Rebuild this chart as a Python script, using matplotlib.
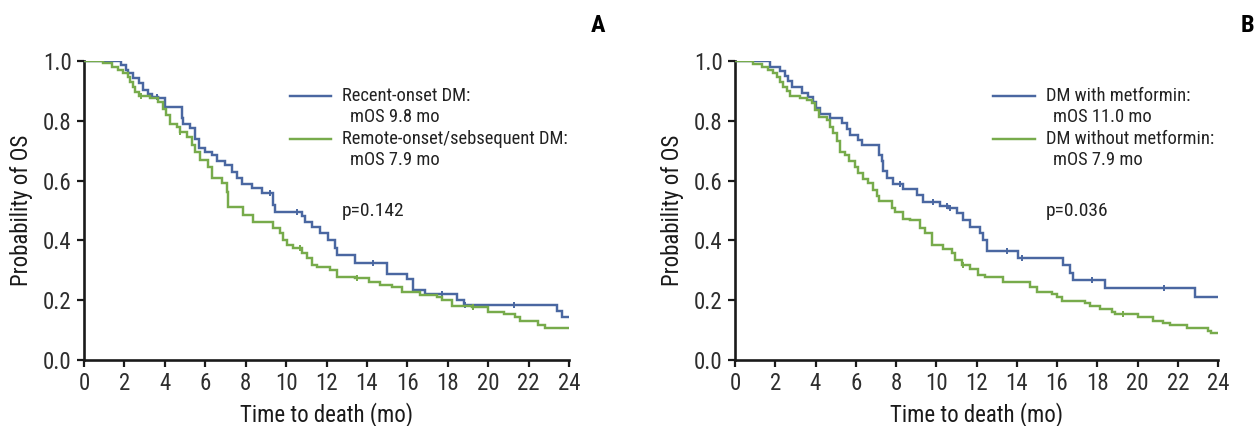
import numpy as np
import matplotlib
matplotlib.use("Agg")
import matplotlib.pyplot as plt
from matplotlib import font_manager

# narrow sans if one is installed, else the closest thing
names = {f.name for f in font_manager.fontManager.ttflist}
narrow = [n for n in ('Roboto Condensed', 'Liberation Sans Narrow', 'Open Sans Condensed',
                      'Noto Sans Condensed', 'Arial Narrow') if n in names]
plt.rcParams['font.family'] = narrow + ['Roboto', 'DejaVu Sans']
plt.rcParams['font.stretch'] = 'condensed'

BLUE = '#4a67a1'
GREEN = '#77ab4b'

# Panel A: recent-onset vs remote-onset DM (time in months, KM survival)
a_recent_t = [0, 1.81, 2.06, 2.19, 2.44, 2.74, 2.94, 3.18, 3.35, 3.68, 4.01, 4.83, 4.92,
              5.25, 5.5, 5.71, 5.99, 6.32, 6.57, 6.98, 7.31, 7.56, 7.81, 8.30, 8.80,
              9.37, 9.45, 10.78, 10.94, 11.27, 11.68, 12.09, 12.43, 12.51, 13.42, 15.0,
              15.97, 16.3, 16.88, 18.45, 18.78, 23.43, 23.65, 24]
a_recent_s = [1.0, 0.987, 0.97, 0.96, 0.944, 0.925, 0.903, 0.889, 0.88, 0.875, 0.845, 0.81,
              0.79, 0.775, 0.74, 0.708, 0.697, 0.686, 0.666, 0.652, 0.63, 0.608, 0.59, 0.574,
              0.557, 0.518, 0.496, 0.48, 0.463, 0.446, 0.424, 0.40, 0.373, 0.351, 0.323,
              0.287, 0.27, 0.234, 0.22, 0.20, 0.184, 0.164, 0.143, 0.143]
a_recent_cens = [3.6, 9.21, 10.56, 14.32, 17.74, 18.86, 21.3]

a_remote_t = [0, 0.96, 1.37, 1.7, 1.95, 2.19, 2.28, 2.41, 2.52, 2.74, 3.27, 3.68, 3.93, 4.06,
              4.26, 4.59, 4.75, 5.12, 5.33, 5.5, 5.74, 6.16, 6.32, 6.82, 7.06, 7.15, 7.89,
              8.38, 9.37, 9.7, 9.87, 10.03, 10.36, 10.78, 11.02, 11.27, 11.52, 12.18, 12.51,
              13.42, 14.08, 14.65, 15.23, 15.73, 16.63, 17.46, 17.71, 18.2, 19.19, 20.01,
              20.76, 21.34, 21.58, 22.49, 22.82, 24]
a_remote_s = [1.0, 0.992, 0.98, 0.97, 0.96, 0.948, 0.93, 0.914, 0.897, 0.884, 0.877, 0.863,
              0.84, 0.818, 0.79, 0.78, 0.764, 0.747, 0.72, 0.697, 0.669, 0.647, 0.608, 0.591,
              0.563, 0.513, 0.485, 0.463, 0.44, 0.424, 0.401, 0.385, 0.374, 0.357, 0.34,
              0.318, 0.31, 0.301, 0.279, 0.273, 0.262, 0.251, 0.245, 0.228, 0.217, 0.21,
              0.2, 0.182, 0.177, 0.162, 0.155, 0.143, 0.13, 0.117, 0.106, 0.106]
a_remote_cens = [2.8, 4.75, 10.7, 13.5, 19.27]

# Panel B: DM with vs without metformin
b_met_t = [0, 1.74, 2.24, 2.49, 2.65, 2.82, 3.31, 3.64, 3.89, 4.02, 4.22, 4.72, 5.3, 5.55,
           5.71, 6.13, 6.29, 7.17, 7.29, 7.37, 7.54, 7.87, 8.36, 9.03, 9.36, 10.19, 10.6,
           11.02, 11.35, 11.68, 12.18, 12.34, 12.51, 14.08, 16.31, 16.65, 16.81, 18.38,
           22.86, 24]
b_met_s = [1.0, 0.981, 0.966, 0.95, 0.933, 0.912, 0.892, 0.88, 0.864, 0.842, 0.822, 0.809,
           0.792, 0.773, 0.753, 0.737, 0.718, 0.687, 0.665, 0.631, 0.609, 0.59, 0.571, 0.552,
           0.529, 0.515, 0.51, 0.49, 0.468, 0.446, 0.424, 0.401, 0.366, 0.34, 0.318, 0.292,
           0.268, 0.242, 0.212, 0.212]
b_met_cens = [8.2, 9.82, 10.55, 10.68, 13.5, 14.24, 17.76, 21.33]

b_nomet_t = [0, 0.91, 1.32, 1.66, 1.9, 2.07, 2.24, 2.4, 2.6, 2.73, 3.23, 3.56, 3.81, 3.97,
             4.19, 4.56, 4.72, 4.89, 5.05, 5.22, 5.47, 5.68, 5.96, 6.13, 6.38, 6.63, 6.87,
             7.04, 7.17, 7.79, 7.95, 8.36, 8.69, 9.19, 9.44, 9.77, 10.35, 10.77, 10.93,
             11.26, 11.68, 12.09, 12.42, 13.33, 14.65, 14.99, 15.73, 15.98, 16.23, 17.39,
             17.64, 18.14, 18.71, 18.88, 20.04, 20.79, 21.28, 21.61, 22.44, 23.5, 23.67, 24]
b_nomet_s = [1.0, 0.99, 0.98, 0.97, 0.96, 0.945, 0.93, 0.914, 0.9, 0.884, 0.877, 0.869,
             0.858, 0.836, 0.813, 0.802, 0.78, 0.758, 0.732, 0.697, 0.686, 0.664, 0.644,
             0.625, 0.606, 0.592, 0.57, 0.548, 0.531, 0.51, 0.496, 0.472, 0.467, 0.44, 0.424,
             0.385, 0.371, 0.357, 0.334, 0.318, 0.305, 0.284, 0.279, 0.262, 0.245, 0.228,
             0.22, 0.21, 0.197, 0.19, 0.18, 0.171, 0.16, 0.154, 0.143, 0.131, 0.125, 0.117,
             0.108, 0.098, 0.089, 0.089]
b_nomet_cens = [11.35, 19.29]

x_ticks = list(range(0, 25, 2))
y_ticks = [0.0, 0.2, 0.4, 0.6, 0.8, 1.0]


def km_at(t, s, times):
    # survival value of the step curve at each censoring time
    idx = np.searchsorted(t, times, side='right') - 1
    return np.asarray(s)[idx]


def draw_curve(ax, t, s, cens, color):
    ax.step(t, s, where='post', color=color, lw=1.75, solid_joinstyle='miter', zorder=3)
    ax.plot(cens, km_at(t, s, cens), ls='none', marker='|', ms=5, mew=1.4, color=color, zorder=3)


def style_axes(ax):
    ax.set_xlim(0, 24)
    ax.set_ylim(0, 1.0)
    ax.set_xticks(x_ticks)
    ax.set_yticks(y_ticks)
    ax.set_yticklabels([f"{v:.1f}" for v in y_ticks])
    for side in ('top', 'right'):
        ax.spines[side].set_visible(False)
    for side in ('left', 'bottom'):
        ax.spines[side].set_linewidth(1.9)
        ax.spines[side].set_color('#1a1a1a')
    ax.tick_params(direction='out', length=5, width=1.6, labelsize=16.5, colors='#1a1a1a',
                   labelcolor='#2e2e2e', pad=4)
    ax.set_xlabel("Time to death (mo)", fontsize=16.5, color='#1a1a1a', labelpad=5)
    ax.set_ylabel("Probability of OS", fontsize=16.5, color='#1a1a1a', labelpad=7)
    for sp in ax.spines.values():
        sp.set_clip_on(False)


def draw_key(ax, x0, x1, xt, xi, labels, notes, colors):
    ys = [0.883, 0.739]
    for y, lab, note, col in zip(ys, labels, notes, colors):
        ax.plot([x0, x1], [y, y], color=col, lw=1.75, transform=ax.transAxes, clip_on=False)
        ax.text(xt, y, lab, transform=ax.transAxes, fontsize=13.3, va='center', ha='left',
                color='#222222')
        ax.text(xi, y - 0.07, note, transform=ax.transAxes, fontsize=13.3, va='center',
                ha='left', color='#222222')


fig = plt.figure(figsize=(12.59, 4.26), dpi=100)
ax_a = fig.add_axes([84 / 1259, 1 - 360 / 426, 485 / 1259, 299 / 426])
ax_b = fig.add_axes([735 / 1259, 1 - 360 / 426, 483 / 1259, 299 / 426])

draw_curve(ax_a, a_recent_t, a_recent_s, a_recent_cens, BLUE)
draw_curve(ax_a, a_remote_t, a_remote_s, a_remote_cens, GREEN)
style_axes(ax_a)
draw_key(ax_a, 0.425, 0.509, 0.532, 0.548,
         ["Recent-onset DM:", "Remote-onset/sebsequent DM:"],
         ["mOS 9.8 mo", "mOS 7.9 mo"], [BLUE, GREEN])
ax_a.text(0.532, 0.498, "p=0.142", transform=ax_a.transAxes, fontsize=14, va='center',
          color='#222222')

draw_curve(ax_b, b_met_t, b_met_s, b_met_cens, BLUE)
draw_curve(ax_b, b_nomet_t, b_nomet_s, b_nomet_cens, GREEN)
style_axes(ax_b)
draw_key(ax_b, 0.534, 0.621, 0.644, 0.658,
         ["DM with metformin:", "DM without metformin:"],
         ["mOS 11.0 mo", "mOS 7.9 mo"], [BLUE, GREEN])
ax_b.text(0.644, 0.498, "p=0.036", transform=ax_b.transAxes, fontsize=14, va='center',
          color='#222222')

fig.text(605 / 1259, 1 - 25 / 426, "A", fontsize=17.5, fontweight='bold', ha='right',
         va='center')
fig.text(1254 / 1259, 1 - 25 / 426, "B", fontsize=17.5, fontweight='bold', ha='right',
         va='center')

fig.savefig("out.png", dpi=100, facecolor='white')
